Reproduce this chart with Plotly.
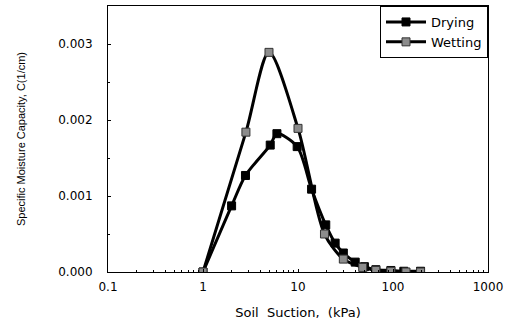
import plotly.graph_objects as go

# Soil suction (kPa) and specific moisture capacity C (1/cm)
drying_suction = [1.0, 2.0, 2.8, 5.1, 6.0, 9.8, 13.9, 19.6, 24.6, 30, 40, 50, 66, 95, 130, 195]
drying_c = [0.0, 0.00087, 0.00127, 0.00167, 0.00182, 0.00165, 0.00109, 0.00062,
            0.00038, 0.00025, 0.00013, 0.00007, 0.00003, 0.00002, 0.00001, 0.00001]

wetting_suction = [1.0, 2.83, 4.95, 10.0, 19.0, 30, 48, 66, 95, 137, 195]
wetting_c = [0.0, 0.00184, 0.00289, 0.00189, 0.00050, 0.00017, 0.00006,
             0.00002, 0.00001, 0.0, 0.0]

x_tick_vals = [0.1, 1, 10, 100, 1000]
x_tick_text = ["0.1", "1", "10", "100", "1000"]
y_tick_vals = [0.0, 0.001, 0.002, 0.003]

font_family = "Liberation Sans, Arial, sans-serif"
wide_font = "DejaVu Sans, Verdana, sans-serif"

fig = go.Figure()
fig.add_trace(go.Scatter(
    x=drying_suction, y=drying_c, name="Drying",
    mode="lines+markers",
    line=dict(color="black", width=3, shape="spline", smoothing=0.8),
    marker=dict(symbol="square", size=8, color="black", line=dict(color="black", width=1)),
))
fig.add_trace(go.Scatter(
    x=wetting_suction, y=wetting_c, name="Wetting",
    mode="lines+markers",
    line=dict(color="black", width=3, shape="spline", smoothing=0.8),
    marker=dict(symbol="square", size=8, color="#8c8c8c", line=dict(color="#333333", width=1)),
))

fig.update_layout(
    width=514, height=321,
    margin=dict(l=108, r=26, t=6, b=49),
    paper_bgcolor="white", plot_bgcolor="white",
    font=dict(family=font_family, color="black", size=11),
    showlegend=True,
    legend=dict(
        x=1, y=1, xanchor="right", yanchor="top",
        bordercolor="black", borderwidth=1, bgcolor="white",
        font=dict(size=13, family=wide_font), itemwidth=40, tracegroupgap=0,
    ),
    xaxis=dict(
        type="log", range=[-1, 3], automargin=False,
        tickvals=x_tick_vals, ticktext=x_tick_text,
        ticks="inside", ticklen=3, tickcolor="black",
        minor=dict(ticks="inside", ticklen=2, tickcolor="black", dtick="D1"),
        showline=True, linecolor="black", linewidth=1, mirror=True,
        showgrid=False, zeroline=False,
        ticklabelstandoff=4,
        title=dict(text="Soil  Suction,  (kPa)", font=dict(size=13, family=wide_font), standoff=14),
        tickfont=dict(size=12, family=wide_font),
    ),
    yaxis=dict(
        range=[0, 0.0035], automargin=False,
        tickvals=y_tick_vals, tickformat=".3f",
        ticks="inside", ticklen=3, tickcolor="black",
        minor=dict(ticks="inside", ticklen=2, tickcolor="black", dtick=0.0005),
        showline=True, linecolor="black", linewidth=1, mirror=True,
        showgrid=False, zeroline=False,
        ticklabelstandoff=12,
        title=dict(text="Specific Moisture Capacity, C(1/cm)", font=dict(size=11), standoff=30),
        tickfont=dict(size=12, family=wide_font),
    ),
)

fig.write_html("out.html")
